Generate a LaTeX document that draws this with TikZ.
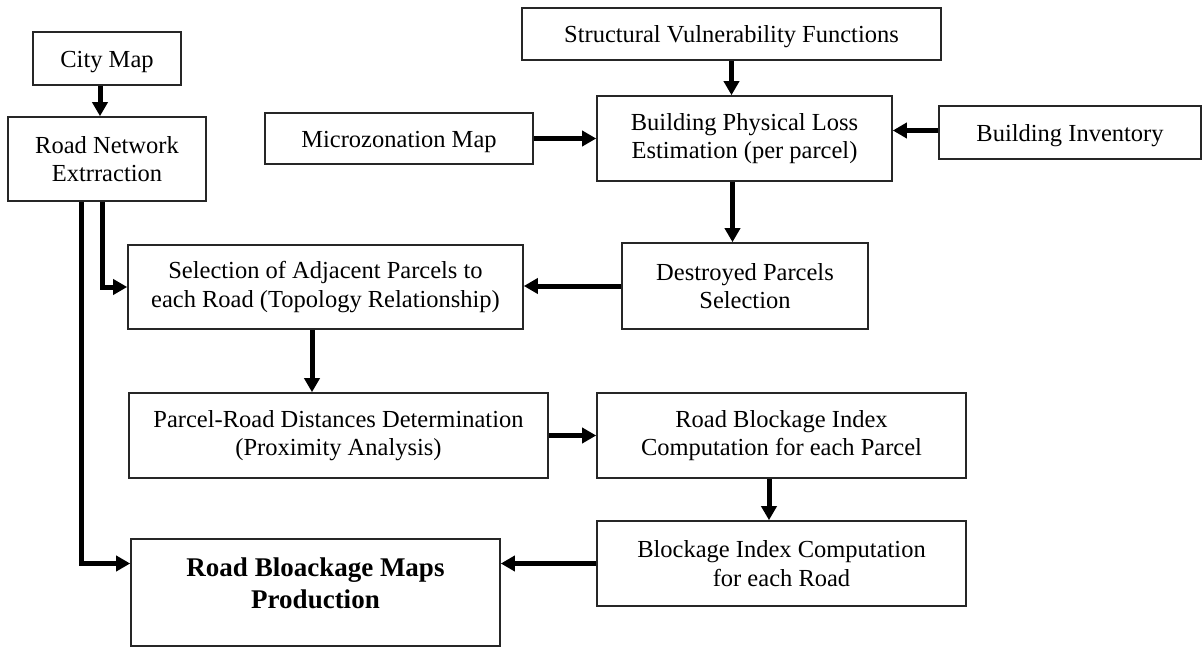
\documentclass[tikz,border=0pt]{standalone}
\usepackage{fontspec}
\setmainfont{Liberation Serif}
\usetikzlibrary{arrows.meta,calc}
\begin{document}
\begin{tikzpicture}[x=1pt,y=-1pt,
  box/.style={draw=black!85,line width=1.6pt,inner sep=0pt,align=center,
    font=\fontsize{24.5}{28.5}\selectfont},
  one/.style={text height=18.5pt,text depth=1pt},
  arr/.style={line width=5pt,-{Triangle[length=14pt,width=15pt]}}]
\useasboundingbox (0,0) rectangle (1202,647);
% nodes
\node[box,one,minimum width=148pt,minimum height=53pt] (city) at (107,58.5) {City Map};
\node[box,minimum width=198pt,minimum height=84pt] (road) at (107,159) {Road Network\\Extrraction};
\node[box,one,minimum width=419pt,minimum height=52pt] (svf) at (731.5,34) {Structural Vulnerability Functions};
\node[box,one,minimum width=268pt,minimum height=51pt] (micro) at (399,138.5) {Microzonation Map};
\node[box,minimum width=295pt,minimum height=85pt] (bpl) at (744.5,138.5) {Building Physical Loss\\Estimation (per parcel)};
\node[box,one,minimum width=262pt,minimum height=53pt] (inv) at (1070,132.5) {Building Inventory};
\node[box,minimum width=395pt,minimum height=84pt] (sel) at (325.5,287) {Selection of Adjacent Parcels to\\each Road (Topology Relationship)};
\node[box,minimum width=246pt,minimum height=86pt] (dest) at (745,286) {Destroyed Parcels\\Selection};
\node[box,minimum width=419pt,minimum height=85pt] (prd) at (338.5,435.5) {Parcel-Road Distances Determination\\(Proximity Analysis)};
\node[box,minimum width=369pt,minimum height=85pt] (rbi) at (781.5,435.5) {Road Blockage Index\\Computation for each Parcel};
\node[box,minimum width=369pt,minimum height=85pt] (bic) at (781.5,563.5) {Blockage Index Computation\\for each Road};
\node[box,minimum width=369pt,minimum height=107pt,
  label={[font=\fontsize{27}{32}\selectfont\bfseries,align=center,yshift=9.5pt]center:Road Bloackage Maps\\Production}] (rbm) at (315.5,592.5) {};
% connectors
\draw[arr] ([xshift=-7pt]city.south) -- ([xshift=-7pt]road.north);
\draw[arr] (svf.south) -- (svf.south |- bpl.north);
\draw[arr] (micro.east) -- (bpl.west);
\draw[arr] ([yshift=2pt]inv.west) -- ([yshift=2pt]inv.west -| bpl.east);
\draw[arr] ([xshift=-12pt]bpl.south) -- ([xshift=-12pt]bpl.south |- dest.north);
\draw[arr] (dest.west) -- (dest.west -| sel.east);
\draw[arr] ([xshift=-5pt]road.south) |- (sel.west);
\draw[arr] ([xshift=-26pt]road.south) |- (rbm.west |- bic.west);
\draw[arr] ([xshift=-13.5pt]sel.south) -- ([xshift=-13.5pt]sel.south |- prd.north);
\draw[arr] (prd.east) -- (prd.east -| rbi.west);
\draw[arr] ([xshift=-12.5pt]rbi.south) -- ([xshift=-12.5pt]bic.north);
\draw[arr] (bic.west) -- (bic.west -| rbm.east);
\end{tikzpicture}
\end{document}
